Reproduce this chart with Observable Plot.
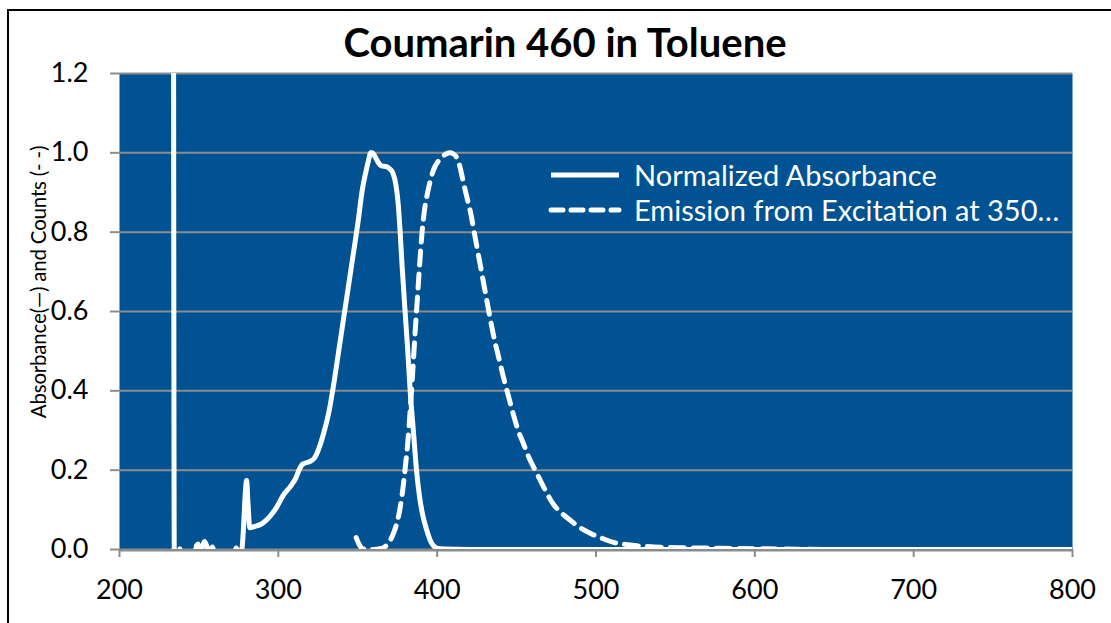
<!DOCTYPE html>
<html><head><meta charset="utf-8">
<script src="https://cdn.jsdelivr.net/npm/d3@7"></script>
<script src="https://cdn.jsdelivr.net/npm/@observablehq/plot@0.6"></script>
<style>
html,body{margin:0;padding:0;background:#fff;overflow:hidden;}
#wrap{position:relative;width:1111px;height:623px;overflow:hidden;font-family:Lato,sans-serif;color:#000;}
#border{position:absolute;left:7px;top:9px;width:1200px;height:700px;border:2px solid #000;}
#title{position:absolute;left:0;width:1130px;top:22px;line-height:40px;text-align:center;font-weight:700;font-size:40px;}
#chart{position:absolute;left:0;top:0;}
#ylab{position:absolute;left:38px;top:282px;transform:translate(-50%,-50%) rotate(-90deg);white-space:nowrap;font-size:20.5px;line-height:22px;letter-spacing:-0.2px;}
#legend{position:absolute;left:548px;top:157px;color:#fff;font-size:29px;}
.row{display:flex;align-items:center;height:35px;}
.row svg{margin-right:12px;}
</style></head>
<body><div id="wrap"><div id="border"></div><div id="chart"></div><div id="title">Coumarin 460 in Toluene</div><div id="ylab">Absorbance(—) and Counts (- -)</div><div id="legend"></div></div>
<script>
const absWl = [234, 234.5, 237, 238, 239, 247, 248.5, 249.5, 250.5, 252, 253.5, 255, 256.5, 258.5, 260, 272, 273.5, 275, 277, 278, 279, 280, 281, 282, 285, 290, 295, 299, 303, 308, 311, 313, 315, 317, 320, 323, 326, 329, 332, 335, 338, 341, 344, 347, 350, 353, 355, 357, 358, 359, 361, 363, 365, 368, 370, 372, 374, 375.5, 376.7, 378, 379.8, 381.5, 383, 385, 387, 389, 391, 393.5, 396, 398, 400, 405, 420, 500, 600, 700, 800];
const absVal = [1.5, -0.02, -0.02, 0.002, -0.02, -0.02, 0.01, 0.014, -0.005, 0.005, 0.02, 0.008, -0.01, 0.006, -0.01, -0.02, 0.004, -0.01, 0.0, 0.05, 0.13, 0.174, 0.11, 0.055, 0.058, 0.066, 0.085, 0.107, 0.136, 0.161, 0.18, 0.2, 0.214, 0.218, 0.222, 0.232, 0.26, 0.3, 0.35, 0.42, 0.5, 0.58, 0.66, 0.74, 0.82, 0.91, 0.95, 0.985, 1.0, 1.0, 0.99, 0.975, 0.967, 0.965, 0.96, 0.95, 0.92, 0.87, 0.80, 0.71, 0.60, 0.50, 0.40, 0.30, 0.20, 0.13, 0.085, 0.048, 0.02, 0.008, 0.003, 0.001, 0.0, 0.0, 0.0, 0.0, 0.0];
const emWl = [349, 351, 353, 356, 360, 364, 366, 368, 370, 372, 374, 376, 378, 380, 381.5, 383, 384.5, 386, 387.5, 389, 390.5, 392, 394, 396, 398, 400, 402, 404, 406, 408, 410, 412, 414, 416, 418, 421, 424, 427, 430, 433, 436, 439, 442, 445, 448, 451, 454, 458, 463, 468, 473, 478, 484, 490, 497, 504, 511, 520, 532, 545, 560, 580, 600, 650, 700, 750, 800];
const emVal = [0.03, 0.012, 0.002, 0, 0, 0.002, 0.004, 0.01, 0.02, 0.036, 0.058, 0.09, 0.14, 0.21, 0.27, 0.35, 0.44, 0.54, 0.63, 0.72, 0.80, 0.855, 0.9, 0.935, 0.96, 0.975, 0.985, 0.993, 0.998, 1.0, 0.998, 0.99, 0.97, 0.935, 0.9, 0.85, 0.785, 0.72, 0.655, 0.59, 0.53, 0.48, 0.43, 0.385, 0.34, 0.3, 0.27, 0.23, 0.19, 0.15, 0.115, 0.093, 0.073, 0.055, 0.04, 0.028, 0.018, 0.012, 0.0075, 0.005, 0.004, 0.003, 0.002, 0.0, 0.0, 0.0, 0.0];
const xTicks = [200, 300, 400, 500, 600, 700, 800];
const yTicks = [0, 0.2, 0.4, 0.6, 0.8, 1.0, 1.2];
const seriesNames = ["Normalized Absorbance", "Emission from Excitation at 350…"];

const absData = absWl.map((w, i) => ({w, v: absVal[i]}));
const emData = emWl.map((w, i) => ({w, v: emVal[i]}));
const gray = "#8c8c8c";
const chart = Plot.plot({
  width: 1111, height: 623,
  marginLeft: 119, marginRight: 39, marginTop: 73, marginBottom: 74,
  x: {domain: [200, 800]},
  y: {domain: [0, 1.2]},
  style: {fontFamily: "Lato, sans-serif", fontSize: "27px", color: "#000", background: "transparent", overflow: "visible"},
  marks: [
    Plot.frame({fill: "#005292", stroke: null}),
    Plot.gridY(yTicks, {stroke: gray, strokeOpacity: 1, strokeWidth: 2}),
    Plot.line(emData, {x: "w", y: "v", stroke: "white", strokeWidth: 5, strokeDasharray: "14 9", strokeLinecap: "round", clip: true, curve: "monotone-x"}),
    Plot.line(absData, {x: "w", y: "v", stroke: "white", strokeWidth: 5, clip: true, curve: "monotone-x"}),
    Plot.ruleY([0], {stroke: gray, strokeWidth: 2, dy: 1}),
    Plot.axisX({ticks: xTicks, tickSize: 8, tickPadding: 22, stroke: gray, strokeWidth: 2, strokeOpacity: 1, label: null, tickFormat: d => String(d)}),
    Plot.axisY({ticks: yTicks, tickSize: 9, tickPadding: 22, stroke: gray, strokeWidth: 2, strokeOpacity: 1, label: null, tickFormat: d3.format(".1f")})
  ]
});
document.getElementById("chart").appendChild(chart);

const legend = d3.select("#legend");
seriesNames.forEach((name, i) => {
  const row = legend.append("div").attr("class", "row");
  const s = row.append("svg").attr("width", 74).attr("height", 10);
  s.append("line").attr("x1", 3).attr("x2", 71).attr("y1", 5).attr("y2", 5)
    .attr("stroke", "white").attr("stroke-width", 5).attr("stroke-linecap", i ? "round" : "butt")
    .attr("stroke-dasharray", i ? "12 8" : null);
  row.append("span").text(name);
});
</script></body></html>
